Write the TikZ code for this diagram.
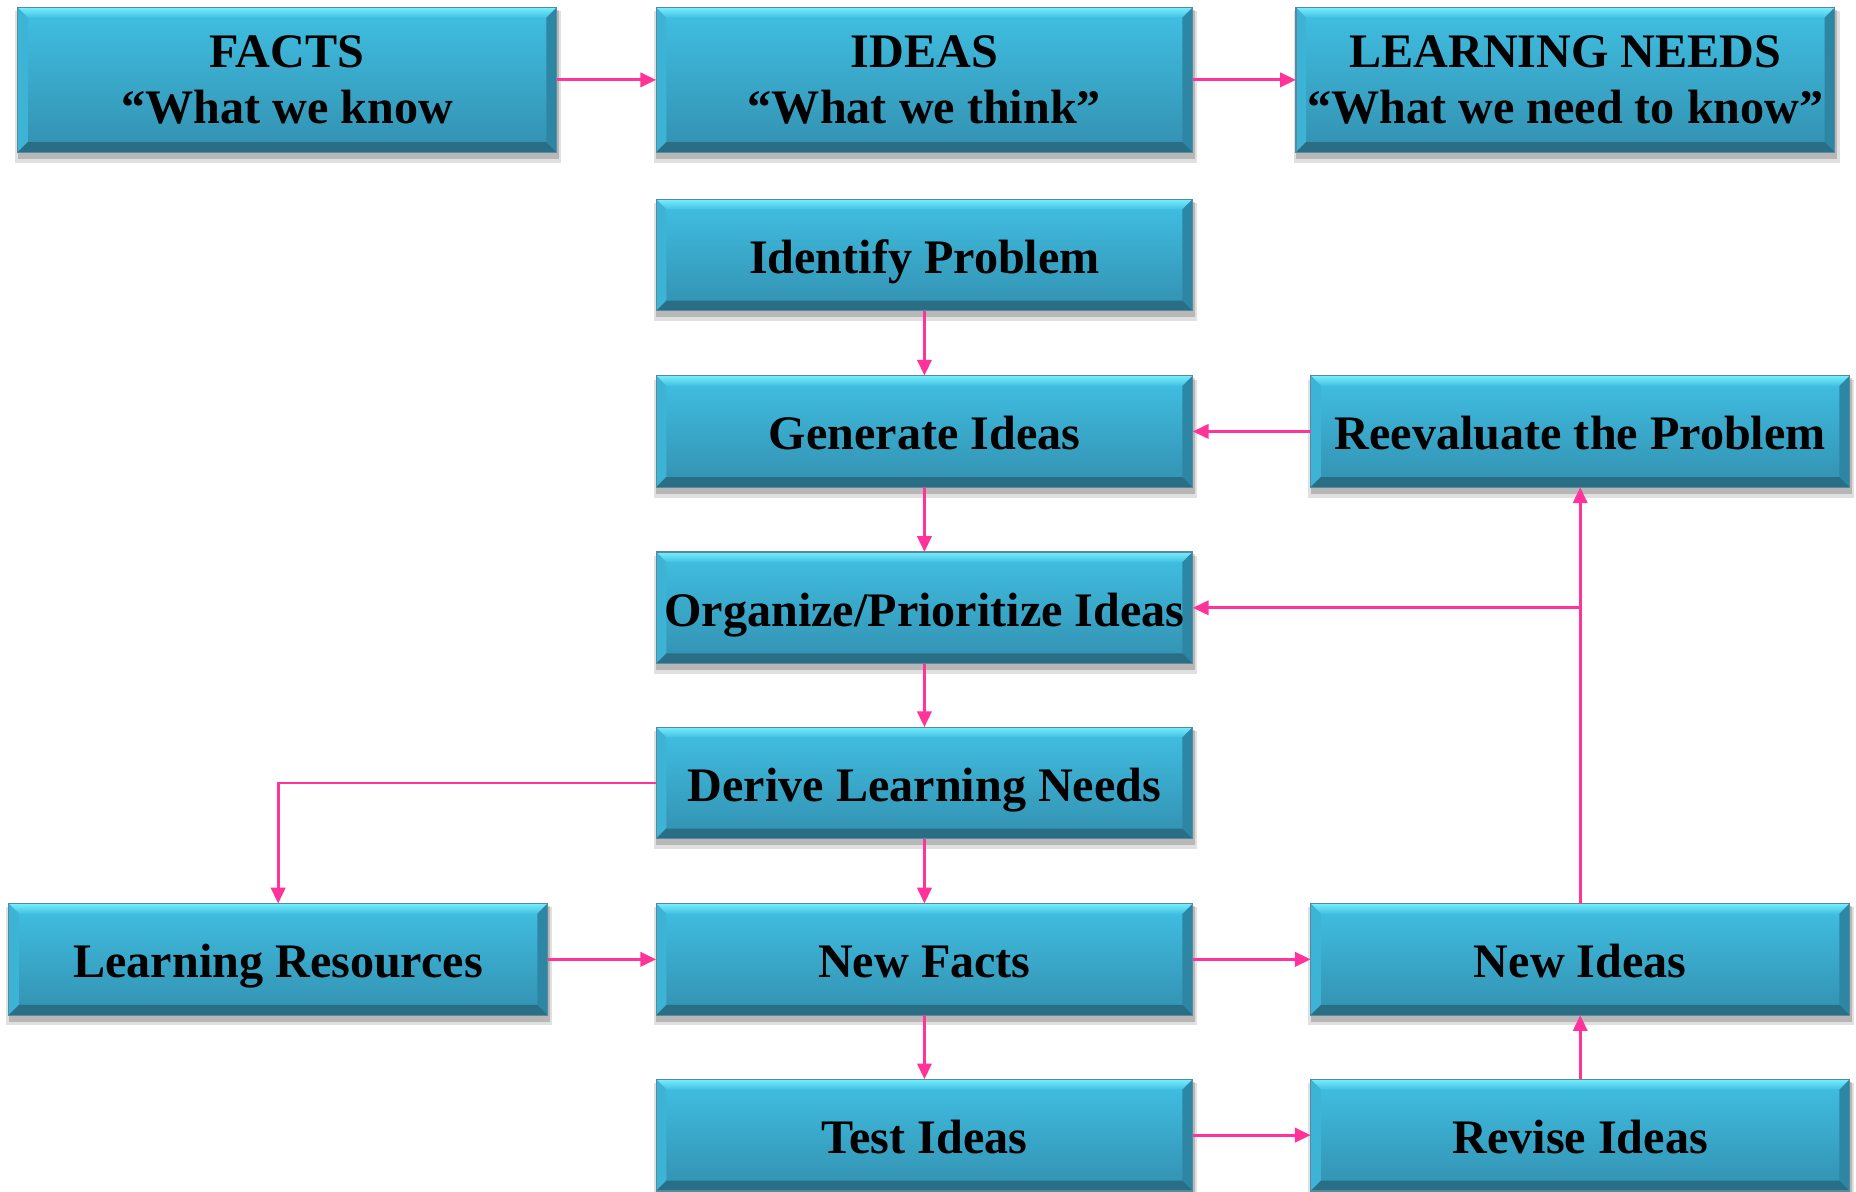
\documentclass[tikz,border=0pt]{standalone}
\usepackage{fontspec}
\setmainfont{Liberation Serif}
\usetikzlibrary{arrows.meta,calc,backgrounds}
\definecolor{facetop}{HTML}{40C0E3}
\definecolor{facebot}{HTML}{3390B0}
\definecolor{bevtop}{HTML}{78EEFC}
\definecolor{bevleft}{HTML}{3DB3D6}
\definecolor{bevright}{HTML}{2E86A5}
\definecolor{bevbot}{HTML}{2A6E86}
\definecolor{arrowpink}{HTML}{FF3399}
\begin{document}
\begin{tikzpicture}[x=0.3pt,y=-0.3pt,
  bbox/.style={draw=none,inner sep=0pt,minimum width=135.6pt,minimum height=27.9pt,
    font=\fontsize{12.2}{14.4}\selectfont\bfseries,align=center,text=black},
  single/.style={text height=12pt,text depth=2.7pt},
  wide/.style={minimum width=136.2pt},
  tall/.style={minimum height=36.3pt},
  conn/.style={draw=arrowpink,line width=0.75pt,-{Triangle[length=4pt,width=3.6pt]}}]
\useasboundingbox (0,0) rectangle (1568,1007);

% nodes (text)
\node[bbox,tall,wide] (facts) at (242.5,67.5) {FACTS\\“What we know};
\node[bbox,tall] (ideas) at (781,67.5) {IDEAS\\“What we think”};
\node[bbox,tall,wide] (lneeds) at (1322.5,67.5) {LEARNING NEEDS\\“What we need to know”};
\node[bbox,single] (identify) at (781,215.5) {Identify Problem};
\node[bbox,single] (generate) at (781,364.5) {Generate Ideas};
\node[bbox,single,wide] (reeval) at (1335,364.5) {Reevaluate the Problem};
\node[bbox,single] (organize) at (781,513.5) {Organize/Prioritize Ideas};
\node[bbox,single] (derive) at (781,661.5) {Derive Learning Needs};
\node[bbox,single,wide] (lres) at (235,810.5) {Learning Resources};
\node[bbox,single] (newfacts) at (781,810.5) {New Facts};
\node[bbox,single,wide] (newideas) at (1335,810.5) {New Ideas};
\node[bbox,single] (test) at (781,959) {Test Ideas};
\node[bbox,single,wide] (revise) at (1335,959) {Revise Ideas};

% box bodies
\def\bv{2.6pt}
\begin{scope}[on background layer]
\fill[white] (0,0) rectangle (1568,1007);
\foreach \n in {facts,ideas,lneeds,identify,generate,reeval,organize,derive,lres,newfacts,newideas,test,revise}{
  \fill[black,opacity=0.12] ($(\n.south west)+(-0.6pt,-2.6pt)$) rectangle ($(\n.north east)+(1.2pt,-1pt)$);
  \fill[black,opacity=0.18] ($(\n.south west)+(0pt,-1.6pt)$) rectangle ($(\n.north east)+(0.6pt,-0.6pt)$);
  \shade[top color=facetop,bottom color=facebot] (\n.south west) rectangle (\n.north east);
  \shade[top color=bevtop,bottom color=facetop] (\n.north west) -- (\n.north east) -- ($(\n.north east)+(-\bv,-\bv)$) -- ($(\n.north west)+(\bv,-\bv)$) -- cycle;
  \fill[bevleft] (\n.north west) -- ($(\n.north west)+(\bv,-\bv)$) -- ($(\n.south west)+(\bv,\bv)$) -- (\n.south west) -- cycle;
  \fill[bevright] (\n.north east) -- ($(\n.north east)+(-\bv,-\bv)$) -- ($(\n.south east)+(-\bv,\bv)$) -- (\n.south east) -- cycle;
  \fill[bevbot] (\n.south west) -- ($(\n.south west)+(\bv,\bv)$) -- ($(\n.south east)+(-\bv,\bv)$) -- (\n.south east) -- cycle;
  \draw[bevbot!80,line width=0.3pt] (\n.south west) rectangle (\n.north east);
}
\end{scope}

% connectors
\draw[conn] (facts) -- (ideas);
\draw[conn] (ideas) -- (lneeds);
\draw[conn] (identify) -- (generate);
\draw[conn] (reeval) -- (generate);
\draw[conn] (generate) -- (organize);
\draw[conn] (organize) -- (derive);
\draw[conn] (derive) -- (newfacts);
\draw[conn] (derive.west) -| (lres.north);
\draw[conn] (lres) -- (newfacts);
\draw[conn] (newfacts) -- (newideas);
\draw[conn] (newfacts) -- (test);
\draw[conn] (test) -- (revise);
\draw[conn] (revise) -- (newideas);
\coordinate (branch) at (newideas.north |- organize.east);
\draw[conn] (newideas.north) -- (reeval.south);
\draw[conn] (branch) -- (organize.east);
\end{tikzpicture}
\end{document}
